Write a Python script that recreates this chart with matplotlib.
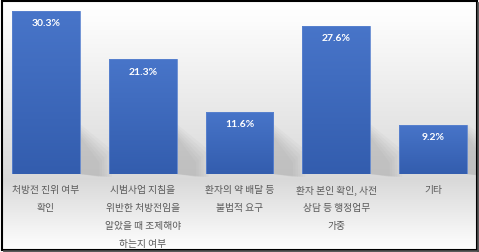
import matplotlib
matplotlib.use("Agg")
import matplotlib.pyplot as plt
import numpy as np
from matplotlib.patches import Rectangle, Polygon
from matplotlib.lines import Line2D

plt.rcParams['font.family'] = ['Noto Sans CJK KR', 'DejaVu Sans']

categories = ["처방전 진위 여부\n확인",
              "시범사업 지침을\n위반한 처방전임을\n알았을 때 조제해야\n하는지 여부",
              "환자의 약 배달 등\n불법적 요구",
              "환자 본인 확인, 사전\n상담 등 행정업무\n가중",
              "기타"]
values = [30.3, 21.3, 11.6, 27.6, 9.2]
labels = ["30.3%", "21.3%", "11.6%", "27.6%", "9.2%"]

W, H = 479, 253
fig = plt.figure(figsize=(W / 100, H / 100), dpi=100)
fig.patch.set_facecolor('white')


def fx(px):
    return px / W


def fy(py):
    return 1 - py / H


# background gradient inside the frame
bg = fig.add_axes([fx(2), fy(251), fx(475), 249 / H])
rows = np.arange(2, 251)
g = np.interp(rows, [2, 20, 180, 251], [1.0, 0.99, 0.85, 1.0])
img = np.repeat(g[:, None], 2, axis=1)
bg.imshow(np.dstack([img, img, img]), aspect='auto', extent=[0, 1, 0, 1])
bg.set_axis_off()

# frame with shadow
fig.lines.append(Line2D([fx(478.2), fx(478.2)], [fy(4), fy(253)], transform=fig.transFigure,
                        color='#4a4a4a', linewidth=1.3))
fig.lines.append(Line2D([fx(4), fx(479)], [fy(252.3), fy(252.3)], transform=fig.transFigure,
                        color='#4a4a4a', linewidth=1.3))
fig.patches.append(Rectangle((fx(1.5), fy(250.8)), fx(475.5), 249.3 / H,
                             transform=fig.transFigure, facecolor='none',
                             edgecolor='black', linewidth=1.5))

ax = fig.add_axes([fx(8), fy(175), fx(464), 167 / H])
ax.patch.set_alpha(0)
x = np.arange(len(values))
bw = 0.70
ypx = 163 / 30.3
xpx = 96.75

# soft bar shadows
for xi, v in zip(x, values):
    xr = xi + bw / 2
    for k in range(6):
        d = k * 2.5
        pts = [(xr, (50 - d) / ypx), (xr + (32 - d) / xpx, (24 - d) / ypx),
               (xr + (32 - d) / xpx, -3 / ypx), (xr, 0)]
        ax.add_patch(Polygon(pts, closed=True, facecolor='#707070', alpha=0.045,
                             edgecolor='none', clip_on=False, zorder=1))

bars = ax.bar(x, values, width=bw, color='none', edgecolor='#5b83cf',
              linewidth=0.6, zorder=3)
grad = np.linspace(0, 1, 100)[:, None]
top = np.array([0x48, 0x75, 0xc9]) / 255
bot = np.array([0x33, 0x5d, 0xae]) / 255
cimg = (top[None, None, :] * (1 - grad[..., None]) + bot[None, None, :] * grad[..., None])
cimg = np.repeat(cimg, 2, axis=1)
for b, xi, v in zip(bars, x, values):
    im = ax.imshow(cimg, extent=[xi - bw / 2, xi + bw / 2, 0, v], aspect='auto', zorder=2)
    im.set_clip_path(b)

for xi, v, t in zip(x, values, labels):
    ax.text(xi, v - 12 / ypx, t, ha='center', va='center', color='white',
            fontsize=7.5, fontweight='bold', family=['Lato', 'DejaVu Sans'], zorder=4)

ax.set_xlim(-0.393, 4.403)
ax.set_ylim(0, 167 / ypx)
ax.set_xticks(x)
ax.set_xticklabels(categories, fontsize=7, color='#595959', linespacing=1.97, va='top')
ax.tick_params(axis='x', length=0, pad=7.5)
ax.set_yticks([])
for s in ax.spines.values():
    s.set_visible(False)

fig.savefig("out.png", dpi=100)
